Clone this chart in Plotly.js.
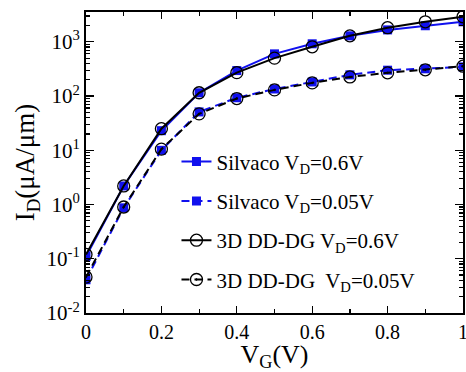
<!DOCTYPE html>
<html>
<head>
<meta charset="utf-8">
<script src="https://cdn.plot.ly/plotly-3.0.1.min.js"></script>
<style>html,body{margin:0;padding:0;background:#fff;}#chart{width:466px;height:372px;}</style>
</head>
<body>
<div id="chart"></div>
<script>
var vg = [0, 0.1, 0.2, 0.3, 0.4, 0.5, 0.6, 0.7, 0.8, 0.9, 1.0];
var silvaco06 = [0.11, 2.2, 23, 115, 295, 600, 920, 1290, 1660, 1980, 2340];
var silvaco005 = [0.041, 0.87, 10, 51, 93, 135, 182, 246, 300, 318, 345];
var dd06 = [0.12, 2.2, 25, 115, 270, 500, 810, 1290, 1820, 2340, 2900];
var dd005 = [0.046, 0.9, 10.5, 47, 90, 130, 175, 225, 268, 305, 355];
var names = ['Silvaco V<sub>D</sub>=0.6V', 'Silvaco V<sub>D</sub>=0.05V', '3D DD-DG V<sub>D</sub>=0.6V', '3D DD-DG  V<sub>D</sub>=0.05V'];
var yTickVals = [0.01, 0.1, 1, 10, 100, 1000];
var yTickText = ['10<sup>-2</sup>', '10<sup>-1</sup>', '10<sup>0</sup>', '10<sup>1</sup>', '10<sup>2</sup>', '10<sup>3</sup>'];
var xTickVals = [0, 0.2, 0.4, 0.6, 0.8, 1];
var xTickText = ['0', '0.2', '0.4', '0.6', '0.8', '1'];

var blue = '#1010ee';
var traces = [
  {x: vg, y: silvaco06, name: names[0], legendgroup: 'a', mode: 'lines+markers',
   line: {color: blue, width: 2}, marker: {symbol: 'square', size: 9, color: blue}},
  {x: vg, y: silvaco005, name: names[1], legendgroup: 'b', mode: 'lines+markers',
   line: {color: blue, width: 2, dash: '8px,5px'}, marker: {symbol: 'square', size: 9, color: blue}},
  {x: vg, y: dd06, name: names[2], legendgroup: 'c', mode: 'lines+markers',
   line: {color: '#000', width: 2}, marker: {symbol: 'circle-open', size: 12, color: '#000', line: {width: 1.3}}},
  {x: vg, y: dd005, name: names[3], legendgroup: 'd', mode: 'lines+markers',
   line: {color: '#000', width: 2, dash: '8px,5px'}, marker: {symbol: 'circle-open-dot', size: 12, color: '#000', line: {width: 1.3}}}
];

var serif = 'Liberation Serif, Times New Roman, serif';
var layout = {
  width: 466, height: 372,
  margin: {l: 86, r: 3, t: 12, b: 59},
  paper_bgcolor: '#fff', plot_bgcolor: '#fff',
  font: {family: serif, color: '#000'},
  showlegend: true,
  legend: {x: 0.24, y: 0.57, xanchor: 'left', yanchor: 'top', bgcolor: 'rgba(0,0,0,0)',
           font: {family: serif, size: 21, color: '#000'}, itemwidth: 30, tracegroupgap: 9},
  xaxis: {
    range: [0, 1], tickvals: xTickVals, ticktext: xTickText, ticklabeloverflow: 'allow',
    ticks: 'inside', ticklen: 7, tickwidth: 1.2, tickcolor: '#000',
    minor: {ticks: 'inside', ticklen: 4, dtick: 0.1, tickcolor: '#000'},
    showline: true, linecolor: '#000', linewidth: 2, mirror: 'allticks',
    showgrid: false, zeroline: false,
    tickfont: {family: serif, size: 20, color: '#000'},
    title: {text: 'V<sub>G</sub>(V)', font: {family: serif, size: 26, color: '#000'}, standoff: 7}
  },
  yaxis: {
    type: 'log', range: [-2, 3.55], tickvals: yTickVals, ticktext: yTickText,
    ticks: 'inside', ticklen: 8, tickwidth: 1.2, tickcolor: '#000',
    minor: {ticks: 'inside', ticklen: 4, tickcolor: '#000', dtick: 'D1'},
    showline: true, linecolor: '#000', linewidth: 2, mirror: 'allticks',
    showgrid: false, zeroline: false,
    tickfont: {family: serif, size: 21, color: '#000'},
    title: {text: 'I<sub>D</sub>(μA/μm)', font: {family: serif, size: 27, color: '#000'}, standoff: 4}
  }
};
Plotly.newPlot('chart', traces, layout, {displayModeBar: false, staticPlot: true});
</script>
</body>
</html>
